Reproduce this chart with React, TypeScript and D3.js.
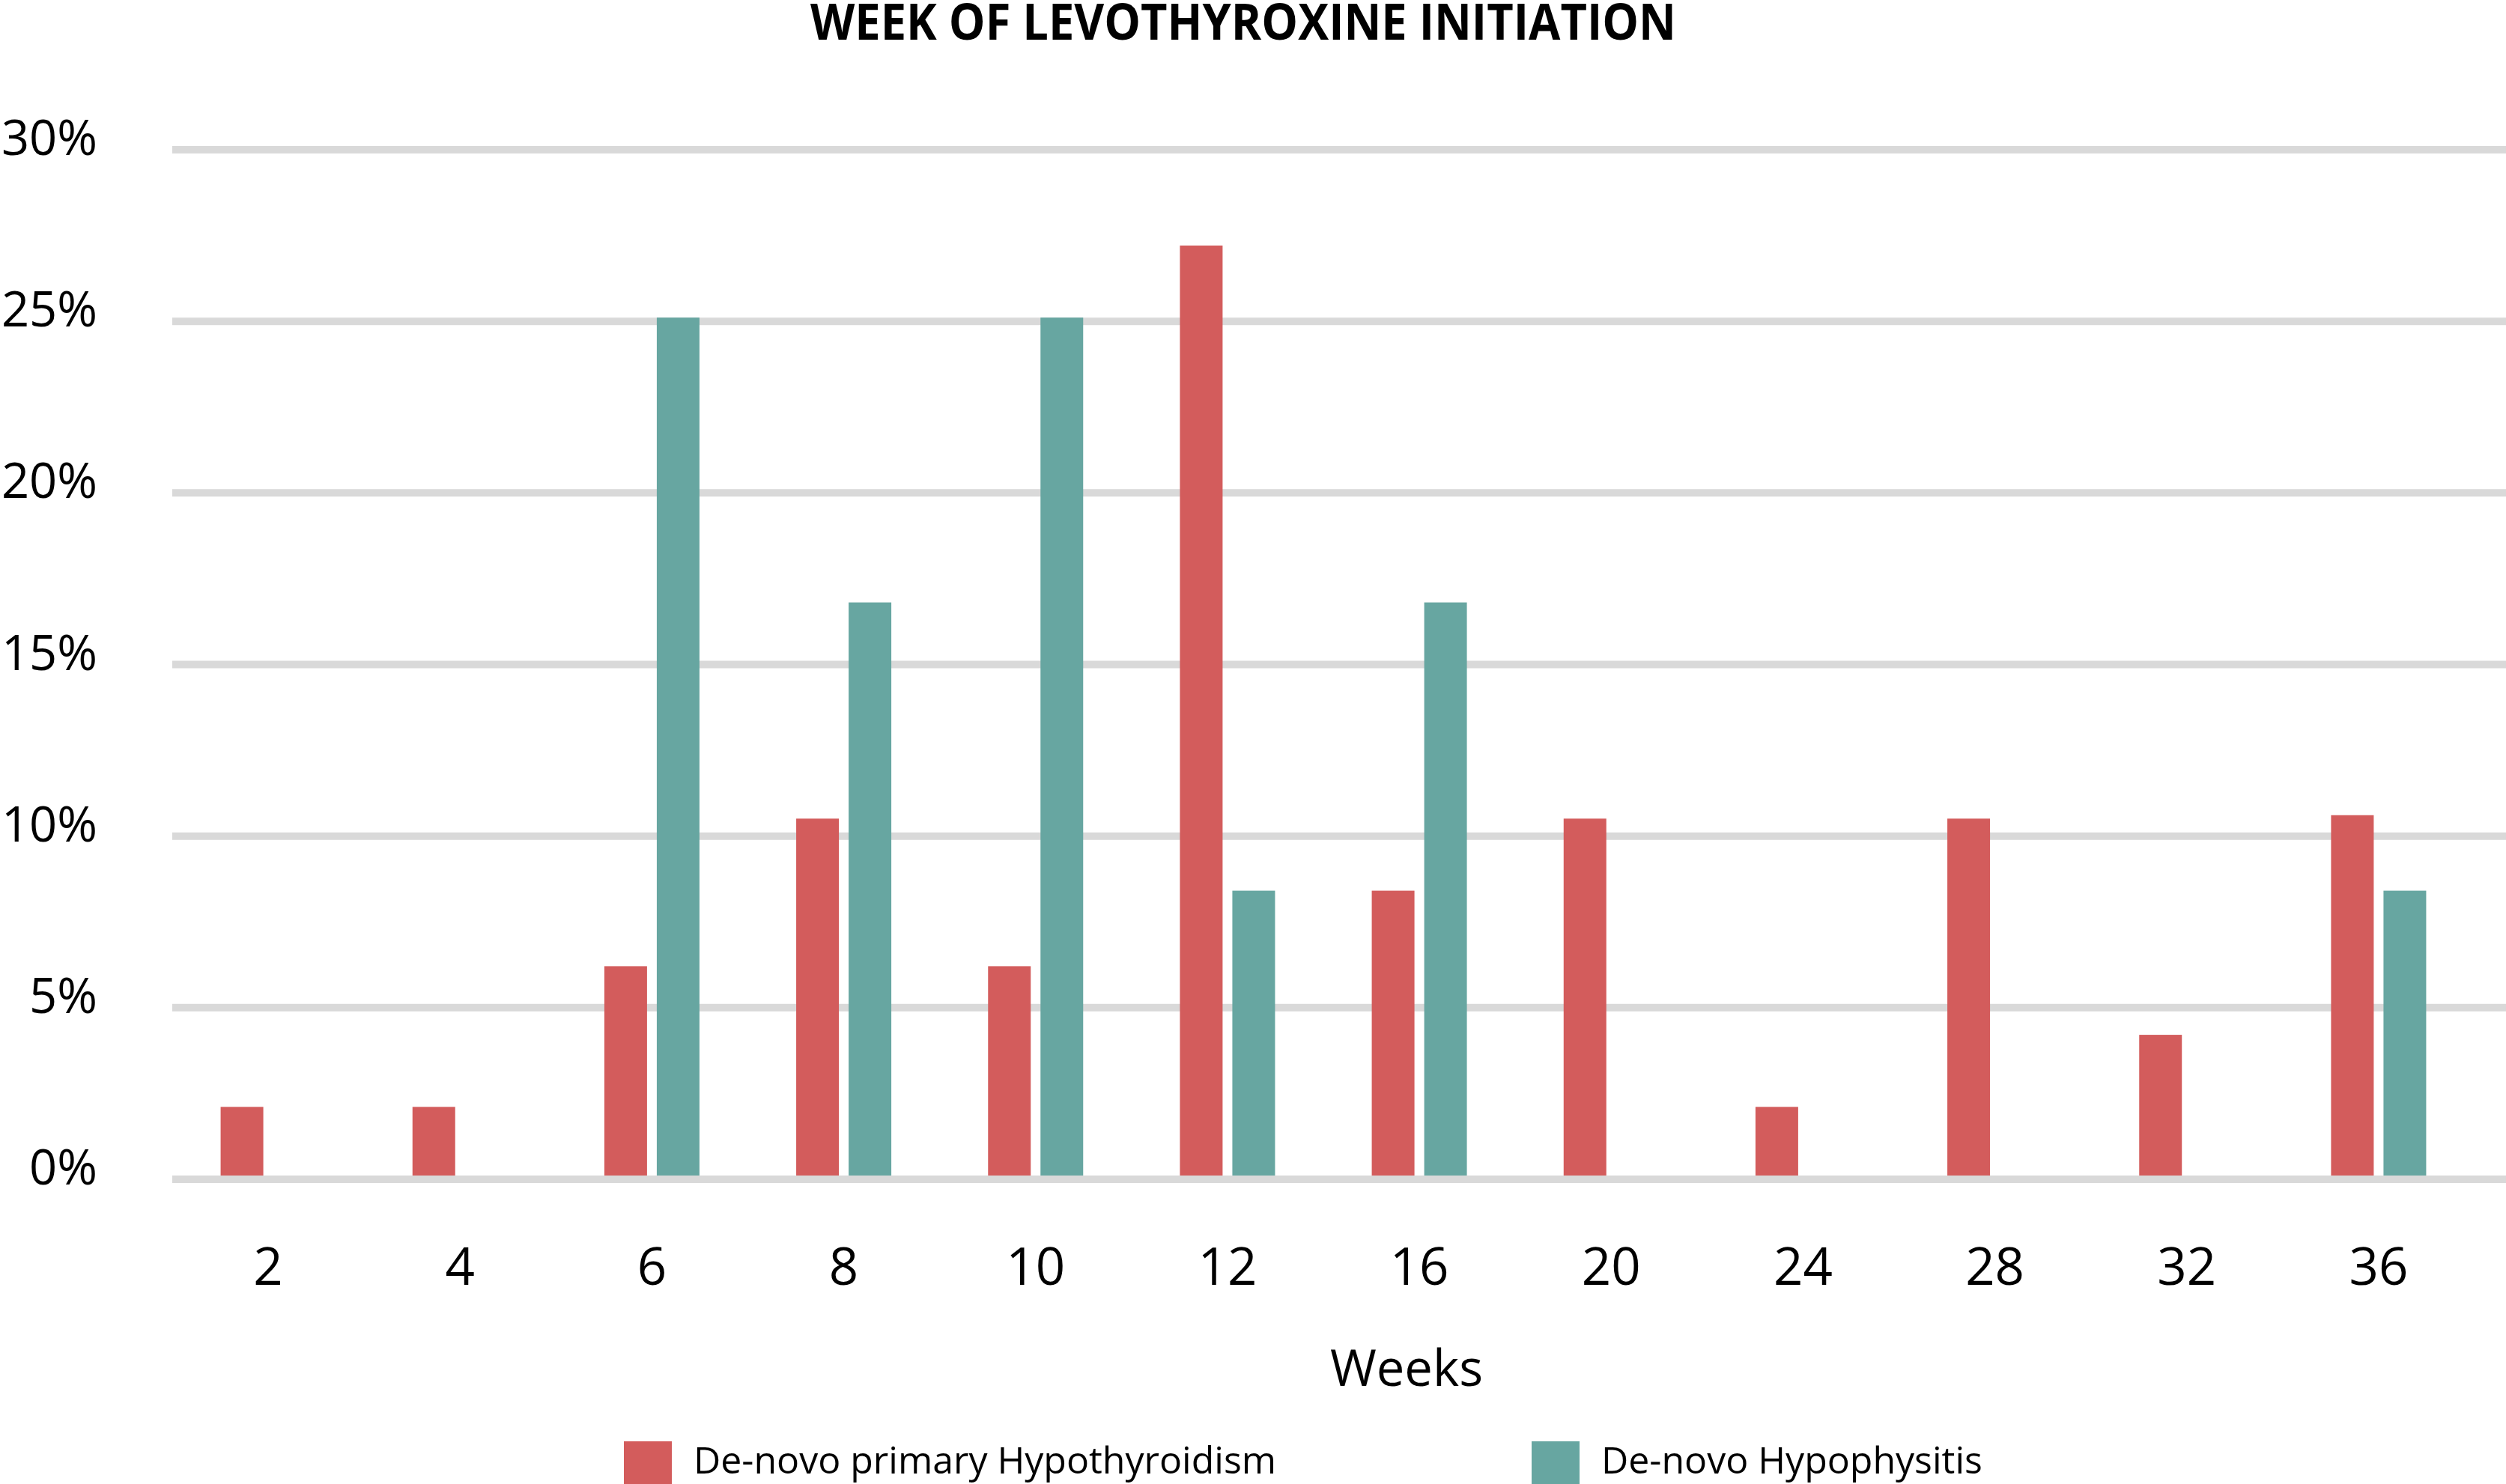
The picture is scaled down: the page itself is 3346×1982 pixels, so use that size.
import * as React from "react";
import * as d3 from "d3";

const weeks = ["2", "4", "6", "8", "10", "12", "16", "20", "24", "28", "32", "36"];
const primaryHypothyroidism = [2.0, 2.0, 6.1, 10.4, 6.1, 27.1, 8.3, 10.4, 2.0, 10.4, 4.1, 10.5];
const hypophysitis = [0, 0, 25, 16.7, 25, 8.3, 16.7, 0, 0, 0, 0, 8.3];
const seriesNames = ["De-novo primary Hypothyroidism", "De-novo Hypophysitis"];
const yTicks = [0, 5, 10, 15, 20, 25, 30];

const colors = ["#D35C5C", "#67A6A1"];
const gridColor = "#D9D9D9";
const font = '"Open Sans", "DejaVu Sans", sans-serif';

function drawChart(svgRef: React.RefObject<SVGSVGElement>) {
  const width = 3346;
  const height = 1982;
  const svg = d3.select(svgRef.current);
  svg.selectAll("*").remove();
  svg.attr("width", width).attr("height", height);

  /* Scales */
  const xScale = d3.scaleBand<string>().domain(weeks).range([230, 3304]).padding(0);
  const groupWidth = 127;
  const xInner = d3
    .scaleBand<string>()
    .domain(seriesNames)
    .range([0, groupWidth])
    .paddingInner(0.186);
  const yScale = d3.scaleLinear().domain([0, 30]).range([1575, 200]);

  // gridlines
  const grid = svg.append("g").attr("class", "grid");
  grid
    .selectAll("line")
    .data(yTicks)
    .enter()
    .append("line")
    .attr("x1", 230)
    .attr("x2", width)
    .attr("y1", (d) => yScale(d))
    .attr("y2", (d) => yScale(d))
    .attr("stroke", gridColor)
    .attr("stroke-width", 10);

  // y labels
  svg
    .append("g")
    .selectAll("text")
    .data(yTicks)
    .enter()
    .append("text")
    .attr("x", 130)
    .attr("y", (d) => yScale(d) + 7)
    .attr("text-anchor", "end")
    .attr("font-family", font)
    .attr("font-size", 65)
    .attr("fill", "#000")
    .text((d) => `${d}%`);

  /* Bars */
  const rows = weeks.map((w, i) => ({
    week: w,
    values: [primaryHypothyroidism[i], hypophysitis[i]],
  }));
  const barBase = yScale(0) - 5;

  const groups = svg
    .append("g")
    .attr("class", "bars")
    .selectAll("g")
    .data(rows)
    .enter()
    .append("g")
    .attr(
      "transform",
      (d) => `translate(${xScale(d.week)! + xScale.bandwidth() / 2 - groupWidth / 2},0)`
    );

  groups
    .selectAll("rect")
    .data((d) => d.values.map((v, j) => ({ name: seriesNames[j], value: v, idx: j })))
    .enter()
    .filter((d) => d.value > 0)
    .append("rect")
    .attr("x", (d) => xInner(d.name)!)
    .attr("width", xInner.bandwidth())
    .attr("y", (d) => yScale(d.value) - 5)
    .attr("height", (d) => barBase - (yScale(d.value) - 5))
    .attr("fill", (d) => colors[d.idx]);

  // x labels
  svg
    .append("g")
    .selectAll("text")
    .data(weeks)
    .enter()
    .append("text")
    .attr("x", (d) => xScale(d)! + xScale.bandwidth() / 2)
    .attr("y", 1716)
    .attr("text-anchor", "middle")
    .attr("font-family", font)
    .attr("font-size", 69)
    .attr("fill", "#000")
    .text((d) => d);

  // axis title
  svg
    .append("text")
    .attr("x", 1878)
    .attr("y", 1851)
    .attr("text-anchor", "middle")
    .attr("font-family", font)
    .attr("font-size", 67)
    .attr("fill", "#000")
    .text("Weeks");

  // chart title
  svg
    .append("text")
    .attr("x", 1082)
    .attr("y", 53)
    .attr("font-family", font)
    .attr("font-weight", 700)
    .attr("font-size", 66)
    .attr("textLength", 1156)
    .attr("lengthAdjust", "spacingAndGlyphs")
    .attr("fill", "#000")
    .text("WEEK OF LEVOTHYROXINE INITIATION");

  // legend
  const legendX = [833, 2045];
  const legend = svg
    .append("g")
    .attr("class", "legend")
    .selectAll("g")
    .data(seriesNames)
    .enter()
    .append("g")
    .attr("transform", (_d, i) => `translate(${legendX[i]},1925)`);

  legend
    .append("rect")
    .attr("width", 64)
    .attr("height", 64)
    .attr("fill", (_d, i) => colors[i]);

  legend
    .append("text")
    .attr("x", 93)
    .attr("y", 43)
    .attr("font-family", font)
    .attr("font-size", 50)
    .attr("fill", "#000")
    .text((d) => d);
}

export default function App() {
  const svg = React.useRef<SVGSVGElement>(null);
  React.useEffect(() => {
    drawChart(svg);
  }, [svg]);

  return (
    <svg
      ref={svg}
      style={{ position: "absolute", left: 0, top: 0, display: "block", background: "#fff" }}
    />
  );
}
